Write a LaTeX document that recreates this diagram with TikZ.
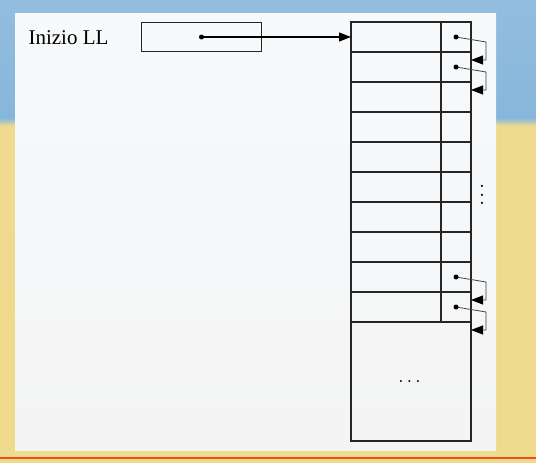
\documentclass[tikz,border=0pt]{standalone}
\usepackage{fontspec}
\setmainfont{Liberation Serif}
\usetikzlibrary{arrows.meta,positioning,calc}
\definecolor{skyband}{HTML}{86B6DB}
\definecolor{sandband}{HTML}{EEDB8E}
\definecolor{rimline}{HTML}{E8501E}
\definecolor{pagetop}{HTML}{F7F9FB}
\definecolor{pagemid}{HTML}{FCF4F4}
\definecolor{pagebot}{HTML}{F4F4F4}
\newcommand\colvdots{\vbox{\baselineskip4pt\lineskiplimit0pt\hbox{$.$}\hbox{$.$}\hbox{$.$}}}

\begin{document}
\begin{tikzpicture}[x=1pt,y=-1pt,
  cell/.style={rectangle,draw=black!85,line width=1.2pt,inner sep=0pt,outer sep=0pt,
               minimum height=30pt},
  datum/.style={cell,minimum width=90pt},
  ptr/.style={cell,minimum width=30pt},
  link/.style={draw=black!75,line width=0.8pt,-{Triangle[length=12pt,width=9pt,color=black]}},
  arr/.style={draw=black,line width=1.1pt,-{Triangle[length=12pt,width=9pt]}}]
\useasboundingbox (0,0) rectangle (536,463);
% background
\shade[top color=skyband!90!white,bottom color=skyband] (0,0) rectangle (536,122);
\shade[top color=skyband,bottom color=sandband] (0,118) rectangle (536,126);
\fill[sandband] (0,126) rectangle (536,463);
\draw[rimline,line width=2.5pt] (0,458) -- (536,458);
\shade[top color=pagetop,middle color=pagemid,bottom color=pagebot] (15,13) rectangle (496,450);
% head pointer
\node[anchor=base west,font=\fontsize{21}{25}\selectfont] (head) at (25,44) {Inizio LL};
\node[cell,minimum width=120pt,minimum height=29.5pt] (start) at (201.5,37) {};
% list cells
\node[datum] (d1) at (396,37) {};
\node[ptr,right=0pt of d1] (p1) {};
\foreach \i [count=\j from 2] in {1,...,9}{
  \node[datum,below=0pt of d\i] (d\j) {};
  \node[ptr,right=0pt of d\j] (p\j) {};}
\node[cell,minimum width=120pt,minimum height=119pt,anchor=north west] (rest) at (d10.south west) {};
\node[scale=2.1] (vdots) at (482,195) {\colvdots};
\node[scale=1.9] (hdots) at (409.5,381) {$\ldots$};
% links
\draw[arr] (start.center) -- (d1.west);
\fill (start.center) circle (2.5pt);
\foreach \a/\b in {p1/p2,p2/p3,p9/p10}{
  \draw[link] (\a.center) -- ($(\a.east)+(15,5)$) -- ($(\b.north east)+(15,8)$) -- ($(\b.north east)+(0,8)$);
  \fill (\a.center) circle (2.5pt);}
\draw[link] (p10.center) -- ($(p10.east)+(15,5)$) -- ($(rest.north east)+(15,8)$) -- ($(rest.north east)+(0,8)$);
\fill (p10.center) circle (2.5pt);
\end{tikzpicture}
\end{document}
